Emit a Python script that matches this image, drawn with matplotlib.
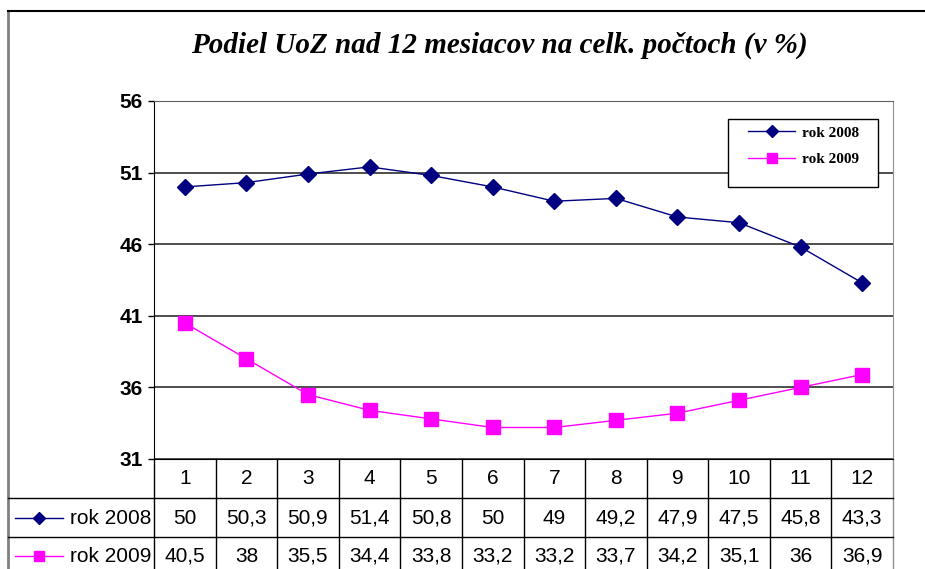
import matplotlib
matplotlib.use("Agg")
import matplotlib.pyplot as plt
from matplotlib.lines import Line2D
from matplotlib.patches import Rectangle
from matplotlib import transforms

TITLE = "Podiel UoZ nad 12 mesiacov na celk. počtoch (v %)"
months = [1, 2, 3, 4, 5, 6, 7, 8, 9, 10, 11, 12]
rok_2008 = [50, 50.3, 50.9, 51.4, 50.8, 50, 49, 49.2, 47.9, 47.5, 45.8, 43.3]
rok_2009 = [40.5, 38, 35.5, 34.4, 33.8, 33.2, 33.2, 33.7, 34.2, 35.1, 36, 36.9]
series_names = ["rok 2008", "rok 2009"]
y_ticks = [31, 36, 41, 46, 51, 56]

NAVY = "#000080"
MAGENTA = "#FF00FF"
W, H = 925, 569


def fx(px):
    return px / W


def fy(py):
    return 1 - py / H


def fmt(v):
    return f"{v:g}".replace(".", ",")


fig = plt.figure(figsize=(9.25, 5.69), dpi=100)
ax = fig.add_axes([fx(154), fy(459), fx(893) - fx(154), fy(101) - fy(459)])

ax.plot(months, rok_2008, color=NAVY, lw=1, marker="D", ms=8, mec=NAVY, label=series_names[0])
ax.plot(months, rok_2009, color=MAGENTA, lw=1, marker="s", ms=9.5, mec=MAGENTA, label=series_names[1])

ax.set_xlim(0.5, 12.5)
ax.set_ylim(31, 56)
ax.set_yticks(y_ticks)
ax.set_xticks([])
ax.yaxis.grid(True, color="#404040", lw=1.3)
ax.set_axisbelow(True)
ax.tick_params(axis="y", direction="out", length=4, width=1, pad=4, labelsize=15)
for lab in ax.get_yticklabels():
    lab.set_fontweight("bold")
    lab.set_family("Liberation Sans")
ax.spines["top"].set_color("#606060")
ax.spines["right"].set_color("#909090")
ax.spines["left"].set_color("black")
ax.spines["bottom"].set_color("black")

# legend box drawn separately so its padding can match
ax.add_patch(Rectangle((fx(728), fy(187)), fx(878) - fx(728), fy(119) - fy(187),
                       transform=fig.transFigure, facecolor="white", edgecolor="black",
                       lw=1, clip_on=False, zorder=4))
leg = ax.legend(loc="upper left", bbox_to_anchor=(fx(748), fy(126)),
                bbox_transform=fig.transFigure,
                prop=dict(family="Liberation Serif", weight="bold", size=11),
                frameon=False, handlelength=3.1, labelspacing=0.85, borderpad=0,
                borderaxespad=0, handletextpad=0.45, markerscale=0.75)
leg.set_zorder(5)

fig.text(fx(499), fy(45), TITLE, ha="center", va="center", family="Liberation Serif",
         style="italic", weight="bold", size=21)

# outer chart border
fig.add_artist(Line2D([fx(8), fx(8)], [0, fy(11)], color="#808080", lw=2))
fig.add_artist(Line2D([fx(8), 1], [fy(11), fy(11)], color="black", lw=1.5))

# data table below the axis
tr = transforms.blended_transform_factory(ax.transData, fig.transFigure)
for k in range(13):
    xb = months[0] - 0.5 + k
    ax.add_line(Line2D([xb, xb], [0, fy(459)], color="black" if k < 12 else "#909090",
                       lw=1, transform=tr, clip_on=False))
for py in (498, 537):
    fig.add_artist(Line2D([fx(8), fx(893)], [fy(py), fy(py)], color="black", lw=1))

tfont = dict(family="Liberation Sans", size=15, ha="center", va="center")
for m in months:
    ax.text(m, fy(479), str(m), transform=tr, **tfont)
rows = [(rok_2008, NAVY, "D", 6.5, 518), (rok_2009, MAGENTA, "s", 7.5, 556)]
for (vals, col, mk, ms, py), name in zip(rows, series_names):
    for m, v in zip(months, vals):
        ax.text(m, fy(py), fmt(v), transform=tr, **tfont)
    fig.add_artist(Line2D([fx(15), fx(63)], [fy(py), fy(py)], color=col, lw=1))
    fig.add_artist(Line2D([fx(39)], [fy(py)], color=col, marker=mk, ms=ms, mec=col))
    fig.text(fx(70), fy(py), name, ha="left", va="center", family="Liberation Sans", size=15)

fig.savefig("out.png", dpi=100)
